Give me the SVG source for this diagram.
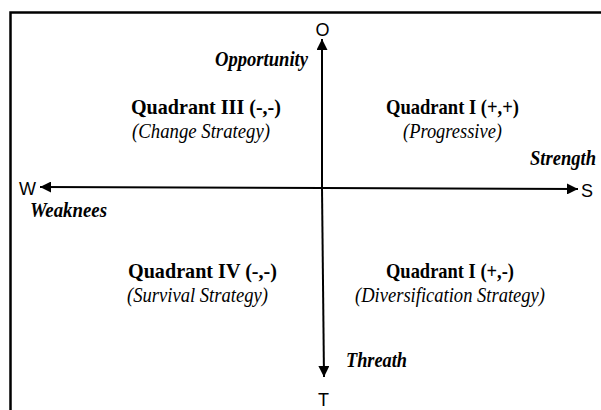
<svg xmlns="http://www.w3.org/2000/svg" width="601" height="410" viewBox="0 0 601 410">
<style>
.q{font-family:"Liberation Serif","Times New Roman",serif;font-size:21px;font-weight:bold;fill:#000}
.s{font-family:"Liberation Serif","Times New Roman",serif;font-size:21px;font-style:italic;fill:#000}
.a{font-family:"Liberation Serif","Times New Roman",serif;font-size:20px;font-style:italic;font-weight:bold;fill:#000}
.l{font-family:"Liberation Sans",Arial,sans-serif;font-size:18px;fill:#000}
.ax{stroke:#000;stroke-width:2;fill:none}
</style>
<defs>
<marker id="ah" viewBox="0 0 10 10" refX="10" refY="5" markerWidth="5.5" markerHeight="5.5" orient="auto" markerUnits="strokeWidth">
<path d="M0,0 L10,5 L0,10 z" fill="#000"/>
</marker>
</defs>
<rect width="601" height="410" fill="#fff"/>
<path d="M10.5,410 V12.5 H601" stroke="#000" stroke-width="2.5" fill="none"/>
<g id="connectors">
<line class="ax" x1="322" y1="188" x2="322" y2="39" marker-end="url(#ah)"/>
<line class="ax" x1="322" y1="188" x2="324" y2="377" marker-end="url(#ah)"/>
<line class="ax" x1="322" y1="188" x2="40" y2="187" marker-end="url(#ah)"/>
<line class="ax" x1="322" y1="188" x2="578" y2="189" marker-end="url(#ah)"/>
</g>
<g id="axis-labels">
<text class="l" x="315.5" y="36">O</text>
<text class="l" x="318" y="405.5">T</text>
<text class="l" x="19" y="194.5">W</text>
<text class="l" x="581" y="196.5">S</text>
<text class="a" x="215" y="66" textLength="93" lengthAdjust="spacingAndGlyphs">Opportunity</text>
<text class="a" x="530" y="165" textLength="66" lengthAdjust="spacingAndGlyphs">Strength</text>
<text class="a" x="30" y="217" textLength="77" lengthAdjust="spacingAndGlyphs">Weaknees</text>
<text class="a" x="346" y="367" textLength="61" lengthAdjust="spacingAndGlyphs">Threath</text>
</g>
<g id="quadrant-III">
<text class="q" x="131" y="114" textLength="150" lengthAdjust="spacingAndGlyphs">Quadrant III (-,-)</text>
<text class="s" x="132" y="138" textLength="138" lengthAdjust="spacingAndGlyphs">(Change Strategy)</text>
</g>
<g id="quadrant-I-pp">
<text class="q" x="386" y="114" textLength="133" lengthAdjust="spacingAndGlyphs">Quadrant I (+,+)</text>
<text class="s" x="403" y="138" textLength="99" lengthAdjust="spacingAndGlyphs">(Progressive)</text>
</g>
<g id="quadrant-IV">
<text class="q" x="128" y="278" textLength="149" lengthAdjust="spacingAndGlyphs">Quadrant IV (-,-)</text>
<text class="s" x="127" y="302" textLength="141" lengthAdjust="spacingAndGlyphs">(Survival Strategy)</text>
</g>
<g id="quadrant-I-pm">
<text class="q" x="386" y="278" textLength="128" lengthAdjust="spacingAndGlyphs">Quadrant I (+,-)</text>
<text class="s" x="355" y="302" textLength="190" lengthAdjust="spacingAndGlyphs">(Diversification Strategy)</text>
</g>
</svg>
